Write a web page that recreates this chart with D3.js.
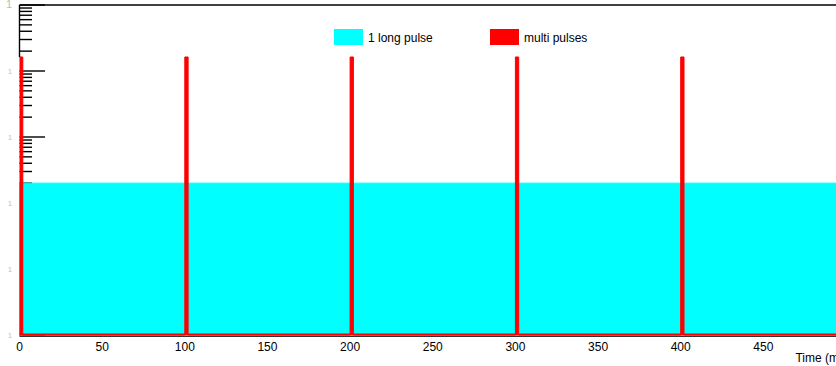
<!DOCTYPE html>
<html>
<head>
<meta charset="utf-8">
<script src="https://cdn.jsdelivr.net/npm/d3@7"></script>
<style>
  body { margin: 0; background: #fff; }
  svg { display: block; font-family: "Liberation Sans", Arial, sans-serif; }
</style>
</head>
<body>
<div id="chart"></div>
<script>
const width = 836,
    height = 366
const margin = {top: 5, right: -10, bottom: 31, left: 19.5}

// data
const xTicks = [0, 50, 100, 150, 200, 250, 300, 350, 400, 450]
const yDecades = [1, 10, 100, 1000, 10000, 100000]
const longStart = [0]
const longEnd = [500]
const longCounts = [200]
const pulseStarts = [0, 100, 200, 300, 400]
const pulseEnds = [2, 102, 202, 302, 402]
const pulseCounts = [16300, 16300, 16300, 16300, 16300]
const legendNames = ['1 long pulse', 'multi pulses']
const legendColor = ['#00FFFF', '#FF0000']

const svg = d3.select('#chart')
    .append('svg')
    .attr('width', width)
    .attr('height', height)

const x = d3.scaleLinear()
    .domain([0, 500])
    .range([margin.left, width - margin.right])

const y = d3.scaleLog()
    .domain([1, 100000])
    .range([height - margin.bottom, margin.top])
    .clamp(true)

const yBottom = y(1)

// y ticks (drawn first, the histogram covers them)
const yAxis = svg.append('g')
let minors = []
yDecades.forEach(function (d) {
    for (let k = 2; k <= 9; k++) {
        if (d * k < 100000) minors.push(d * k)
    }
})
yAxis.selectAll('.minor').data(minors).enter().append('line')
    .attr('x1', x(0)).attr('x2', x(0) + 12.5)
    .attr('y1', function (d) { return y(d) })
    .attr('y2', function (d) { return y(d) })
    .attr('stroke', '#000').attr('stroke-width', 1.4)
yAxis.selectAll('.major').data(yDecades).enter().append('line')
    .attr('x1', x(0)).attr('x2', x(0) + 25.5)
    .attr('y1', function (d) { return y(d) })
    .attr('y2', function (d) { return y(d) })
    .attr('stroke', '#000').attr('stroke-width', 1.4)
// clipped y labels, only a sliver shows at the window edge
yAxis.selectAll('.lab').data(yDecades).enter().append('text')
    .attr('x', 12).attr('y', function (d) { return y(d) + 3 })
    .attr('text-anchor', 'end')
    .attr('font-size', function (d, i) { return i === yDecades.length - 1 ? 11 : 7 })
    .attr('fill', '#bbb')
    .text('1')

// x ticks
const xAxis = svg.append('g')
xAxis.selectAll('line').data(d3.range(0, 500, 10)).enter().append('line')
    .attr('x1', function (d) { return x(d) })
    .attr('x2', function (d) { return x(d) })
    .attr('y1', yBottom)
    .attr('y2', function (d) { return d % 50 === 0 ? yBottom - 10 : yBottom - 5 })
    .attr('stroke', '#000')
xAxis.selectAll('text').data(xTicks).enter().append('text')
    .attr('x', function (d) { return x(d) })
    .attr('y', yBottom + 16)
    .attr('text-anchor', 'middle')
    .attr('font-size', 12)
    .text(function (d) { return d })
svg.append('text')
    .attr('x', x(500) + 3)
    .attr('y', 362)
    .attr('text-anchor', 'end')
    .attr('font-size', 12)
    .text('Time (ms)')

// histogram step lines
function stepPoints(starts, ends, counts, lo, hi) {
    let pts = []
    let last = lo
    starts.forEach(function (s, i) {
        if (s > last) {
            pts.push([last, 0])
            pts.push([s, 0])
        }
        pts.push([s, counts[i]])
        pts.push([ends[i], counts[i]])
        last = ends[i]
    })
    if (last < hi) {
        pts.push([last, 0])
        pts.push([hi, 0])
    }
    return pts
}
const yv = function (v) { return v > 0 ? y(v) : yBottom }

const area = d3.area()
    .x(function (d) { return x(d[0]) })
    .y0(yBottom)
    .y1(function (d) { return yv(d[1]) })
const line = d3.line()
    .x(function (d) { return x(d[0]) })
    .y(function (d) { return yv(d[1]) })

const longPts = stepPoints(longStart, longEnd, longCounts, 0, 500)
svg.append('path')
    .attr('d', area(longPts))
    .attr('fill', legendColor[0])
    .attr('stroke', legendColor[0])

const pulsePts = stepPoints(pulseStarts, pulseEnds, pulseCounts, 0, 500)
svg.append('path')
    .attr('d', area(pulsePts))
    .attr('fill', legendColor[1])
svg.append('path')
    .attr('d', line(pulsePts))
    .attr('fill', 'none')
    .attr('stroke', legendColor[1])
    .attr('stroke-width', 1)
svg.append('line')
    .attr('x1', x(0)).attr('x2', x(500))
    .attr('y1', yBottom - 0.5).attr('y2', yBottom - 0.5)
    .attr('stroke', legendColor[1]).attr('stroke-width', 2)

// frame
svg.append('line')
    .attr('x1', x(0)).attr('x2', x(500))
    .attr('y1', y(100000)).attr('y2', y(100000))
    .attr('stroke', '#000').attr('stroke-width', 1.4)
svg.append('line')
    .attr('x1', x(0)).attr('x2', x(0))
    .attr('y1', y(100000)).attr('y2', y(pulseCounts[0]))
    .attr('stroke', '#000').attr('stroke-width', 1.4)
svg.append('line')
    .attr('x1', x(0)).attr('x2', x(500))
    .attr('y1', yBottom + 1.5).attr('y2', yBottom + 1.5)
    .attr('stroke', '#333').attr('stroke-width', 1)

// legend
const legendX = [334, 490]
const legend = svg.append('g')
legendNames.forEach(function (name, i) {
    legend.append('rect')
        .attr('x', legendX[i]).attr('y', 29)
        .attr('width', 29).attr('height', 16)
        .attr('fill', legendColor[i])
    legend.append('text')
        .attr('x', legendX[i] + 34).attr('y', 41.5)
        .attr('font-size', 12)
        .text(name)
})
</script>
</body>
</html>
